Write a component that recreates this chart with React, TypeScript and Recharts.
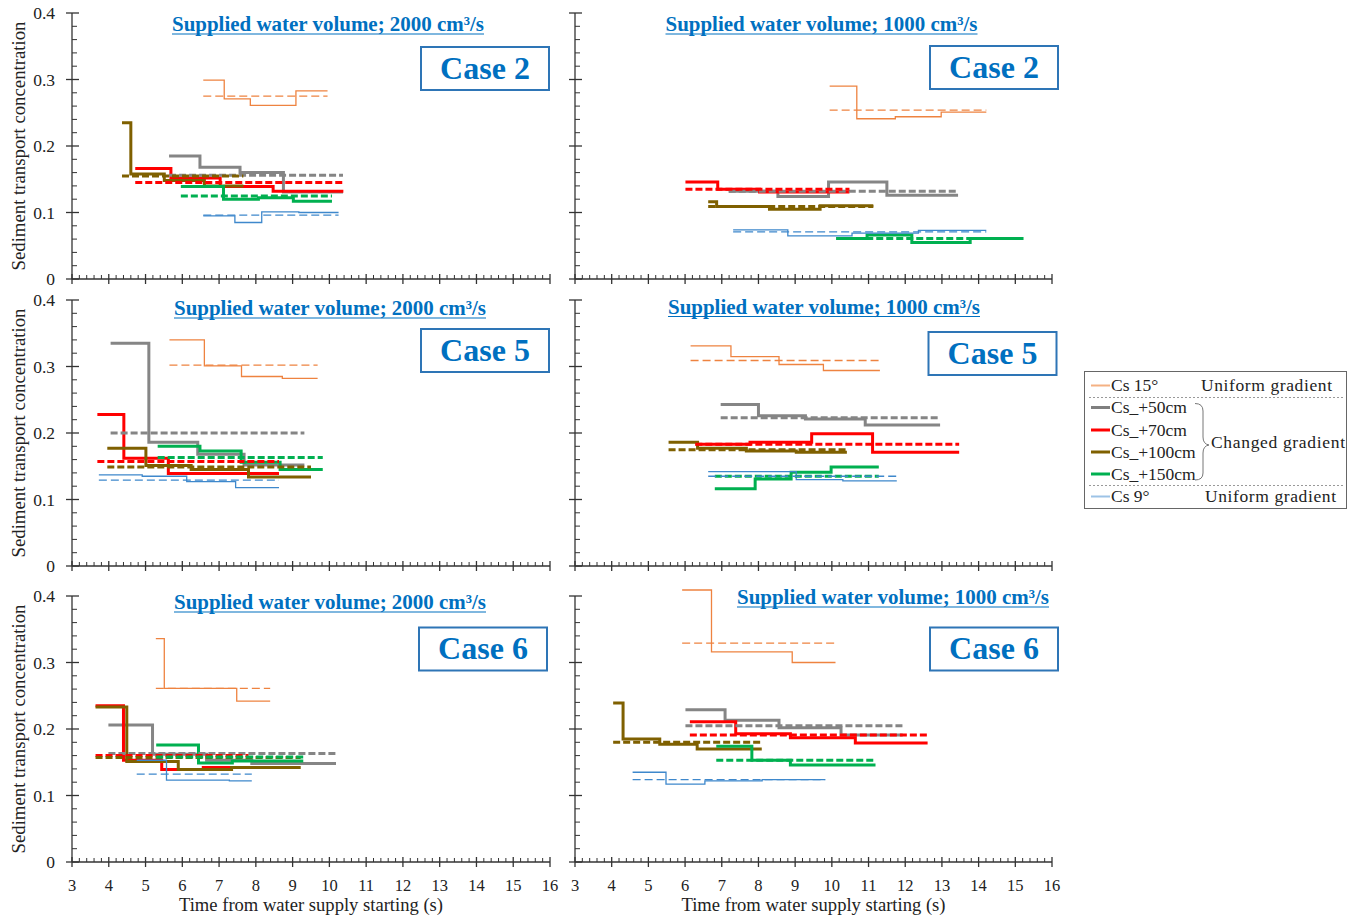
import React from 'react';
import { LineChart, Line, XAxis, YAxis, ReferenceLine } from 'recharts';

// ---------- axes ----------
const X_MAJOR = [3, 4, 5, 6, 7, 8, 9, 10, 11, 12, 13, 14, 15, 16];
const Y_MAJOR = [0, 0.1, 0.2, 0.3, 0.4];
const Y_LABELS = ['0', '0.1', '0.2', '0.3', '0.4'];

// ---------- series ----------
const SERIES_NAMES = ['Cs 15°', 'Cs_+50cm', 'Cs_+70cm', 'Cs_+100cm', 'Cs_+150cm', 'Cs 9°'];
const SERIES_COLORS = ['#EE8340', '#858585', '#FF0000', '#7F6000', '#00B050', '#3E88CC'];
const LEGEND_COLORS = ['#F4B183', '#7F7F7F', '#FF0000', '#7F6000', '#00B050', '#9DC3E6'];
const SERIES_WIDTHS = [1.3, 3, 3, 3, 3, 1.3];

// Case 2, 2000 cm3/s  ([time, concentration] step starts; last = end)
const c2a_cs15 = [[6.57, 0.299], [7.14, 0.271], [7.85, 0.261], [9.09, 0.283], [9.95, 0.283]];
const c2a_p50 = [[5.64, 0.185], [6.48, 0.168], [7.57, 0.16], [8.75, 0.131], [10.37, 0.131]];
const c2a_p70 = [[4.72, 0.166], [5.69, 0.152], [7.03, 0.139], [8.47, 0.132], [10.38, 0.132]];
const c2a_p100 = [[4.36, 0.235], [4.6, 0.158], [5.51, 0.148], [6.6, 0.14], [7.66, 0.14]];
const c2a_p150 = [[5.96, 0.139], [7.12, 0.12], [8.07, 0.122], [9.02, 0.117], [10.07, 0.117]];
const c2a_cs9 = [[6.57, 0.095], [7.43, 0.085], [8.16, 0.101], [9.17, 0.1], [10.25, 0.1]];
const c2a_means = [0.275, 0.156, 0.145, 0.155, 0.125, 0.096];

// Case 2, 1000 cm3/s
const c2b_cs15 = [[9.94, 0.29], [10.68, 0.241], [11.73, 0.244], [12.98, 0.251], [14.21, 0.251]];
const c2b_p50 = [[7.19, 0.132], [8.53, 0.124], [9.91, 0.146], [11.5, 0.126], [13.44, 0.126]];
const c2b_p70 = [[6.01, 0.146], [6.89, 0.135], [8.03, 0.131], [10.48, 0.131]];
const c2b_p100 = [[6.63, 0.116], [6.86, 0.109], [8.3, 0.105], [9.68, 0.11], [11.13, 0.11]];
const c2b_p150 = [[10.12, 0.061], [10.96, 0.066], [12.18, 0.055], [13.77, 0.061], [15.22, 0.061]];
const c2b_cs9 = [[7.31, 0.074], [8.8, 0.065], [10.55, 0.069], [12.36, 0.073], [14.21, 0.073]];
const c2b_means = [0.254, 0.132, 0.135, 0.109, 0.061, 0.071];

// Case 5, 2000 cm3/s
const c5a_cs15 = [[5.65, 0.34], [6.6, 0.301], [7.61, 0.285], [8.72, 0.282], [9.68, 0.282]];
const c5a_p50 = [[4.05, 0.335], [5.09, 0.186], [6.42, 0.168], [7.68, 0.152], [9.32, 0.152]];
const c5a_p70 = [[3.69, 0.228], [4.41, 0.162], [5.62, 0.139], [8.63, 0.139]];
const c5a_p100 = [[3.96, 0.177], [5.01, 0.151], [6.24, 0.145], [7.8, 0.134], [9.5, 0.134]];
const c5a_p150 = [[5.33, 0.18], [6.48, 0.173], [7.6, 0.156], [8.66, 0.145], [9.82, 0.145]];
const c5a_cs9 = [[3.73, 0.137], [4.91, 0.135], [6.12, 0.127], [7.45, 0.118], [8.63, 0.118]];
const c5a_means = [0.302, 0.2, 0.157, 0.149, 0.163, 0.129];

// Case 5, 1000 cm3/s
const c5b_cs15 = [[6.15, 0.331], [7.25, 0.315], [8.56, 0.303], [9.77, 0.294], [11.31, 0.294]];
const c5b_p50 = [[6.97, 0.243], [8.0, 0.226], [9.28, 0.221], [10.91, 0.212], [12.95, 0.212]];
const c5b_p70 = [[6.28, 0.183], [7.77, 0.186], [9.45, 0.199], [11.11, 0.171], [13.47, 0.171]];
const c5b_p100 = [[5.55, 0.186], [6.34, 0.177], [7.67, 0.173], [9.03, 0.171], [10.41, 0.171]];
const c5b_p150 = [[6.81, 0.116], [7.91, 0.131], [8.89, 0.141], [9.98, 0.149], [11.28, 0.149]];
const c5b_cs9 = [[6.63, 0.142], [9.03, 0.13], [10.3, 0.128], [11.77, 0.128]];
const c5b_means = [0.309, 0.223, 0.183, 0.175, 0.135, 0.135];

// Case 6, 2000 cm3/s
const c6a_cs15 = [[5.28, 0.336], [5.51, 0.261], [7.48, 0.242], [8.39, 0.242]];
const c6a_p50 = [[3.99, 0.206], [5.19, 0.162], [6.66, 0.153], [7.89, 0.148], [10.18, 0.148]];
const c6a_p70 = [[3.64, 0.235], [4.4, 0.153], [5.44, 0.139], [6.57, 0.142], [7.8, 0.142]];
const c6a_p100 = [[3.64, 0.233], [4.49, 0.151], [5.89, 0.139], [7.34, 0.142], [9.22, 0.142]];
const c6a_p150 = [[5.29, 0.176], [6.44, 0.149], [7.36, 0.152], [9.29, 0.152]];
const c6a_cs9 = [[4.76, 0.153], [5.57, 0.123], [7.28, 0.122], [7.89, 0.122]];
const c6a_means = [0.261, 0.163, 0.16, 0.157, 0.158, 0.132];

// Case 6, 1000 cm3/s
const c6b_cs15 = [[5.92, 0.409], [6.72, 0.316], [8.92, 0.3], [10.1, 0.3]];
const c6b_p50 = [[6.01, 0.229], [7.09, 0.213], [8.56, 0.202], [10.25, 0.191], [11.93, 0.191]];
const c6b_p70 = [[6.13, 0.211], [7.38, 0.193], [8.87, 0.187], [10.64, 0.179], [12.61, 0.179]];
const c6b_p100 = [[4.04, 0.239], [4.31, 0.185], [5.31, 0.177], [6.33, 0.17], [8.09, 0.17]];
const c6b_p150 = [[6.85, 0.174], [7.82, 0.153], [8.87, 0.146], [11.19, 0.146]];
const c6b_cs9 = [[4.57, 0.135], [5.48, 0.117], [6.54, 0.122], [8.1, 0.124], [9.82, 0.124]];
const c6b_means = [0.329, 0.205, 0.191, 0.18, 0.153, 0.124];

const TITLE_2000 = 'Supplied water volume; 2000 cm³/s';
const TITLE_1000 = 'Supplied water volume; 1000 cm³/s';
const Y_TITLE = 'Sediment transport concentration';
const X_TITLE = 'Time from water supply starting (s)';

// ---------- helpers ----------
const FONT = "'Liberation Serif', 'Times New Roman', serif";
const AXIS = '#333';
const TITLE_BLUE = '#0070C0';
const BOX_BLUE = '#2E75B6';

const X_TICKS: number[] = X_MAJOR.flatMap((m, i) =>
  i < X_MAJOR.length - 1 ? [0, 1, 2, 3, 4].map((k) => +(m + k * 0.2).toFixed(1)) : [m]
);
const Y_TICKS: number[] = Y_MAJOR.flatMap((m, i) =>
  i < Y_MAJOR.length - 1 ? [0, 1, 2, 3, 4].map((k) => +(m + k * 0.02).toFixed(2)) : [m]
);

const toPts = (s: number[][]) => s.map(([x, y]) => ({ x, y }));
const meanPts = (s: number[][], m: number) => [
  { x: s[0][0], y: m },
  { x: s[s.length - 1][0], y: m },
];

function XTick(props: any) {
  const { x, y, payload, showLabel } = props;
  const v = Number(payload.value);
  const major = Math.abs(v - Math.round(v)) < 1e-6;
  if (!major) return <line x1={x} x2={x} y1={y} y2={y - 4} stroke={AXIS} strokeWidth={1} />;
  return (
    <g>
      <line x1={x} x2={x} y1={y - 5} y2={y + 5} stroke={AXIS} strokeWidth={1.3} />
      {showLabel && (
        <text x={x} y={y + 29} textAnchor="middle" fontFamily={FONT} fontSize={16.5} fill="#222">
          {String(Math.round(v))}
        </text>
      )}
    </g>
  );
}

function YTick(props: any) {
  const { x, y, payload, showLabel } = props;
  const v = Number(payload.value);
  const major = Math.abs(v * 10 - Math.round(v * 10)) < 1e-6;
  if (!major) return <line x1={x} x2={x + 5} y1={y} y2={y} stroke={AXIS} strokeWidth={1} />;
  const idx = Math.round(v * 10);
  return (
    <g>
      <line x1={x - 6} x2={x + 7} y1={y} y2={y} stroke={AXIS} strokeWidth={1.3} />
      {showLabel && (
        <text x={x - 17} y={y + 6} textAnchor="end" fontFamily={FONT} fontSize={17.5} fill="#222">
          {Y_LABELS[idx]}
        </text>
      )}
    </g>
  );
}

const PANELS = [
  { steps: [c2a_cs15, c2a_p50, c2a_p70, c2a_p100, c2a_p150, c2a_cs9], means: c2a_means, yMax: 0.4, left: 0, top: 0, width: 560, height: 290, margin: { top: 13, right: 10, bottom: 10, left: 71 }, yl: true, xl: false },
  { steps: [c2b_cs15, c2b_p50, c2b_p70, c2b_p100, c2b_p150, c2b_cs9], means: c2b_means, yMax: 0.4, left: 560, top: 0, width: 510, height: 290, margin: { top: 13, right: 18, bottom: 10, left: 14 }, yl: false, xl: false },
  { steps: [c5a_cs15, c5a_p50, c5a_p70, c5a_p100, c5a_p150, c5a_cs9], means: c5a_means, yMax: 0.4, left: 0, top: 290, width: 560, height: 290, margin: { top: 10, right: 10, bottom: 13, left: 71 }, yl: true, xl: false },
  { steps: [c5b_cs15, c5b_p50, c5b_p70, c5b_p100, c5b_p150, c5b_cs9], means: c5b_means, yMax: 0.4, left: 560, top: 290, width: 510, height: 290, margin: { top: 10, right: 18, bottom: 13, left: 14 }, yl: false, xl: false },
  { steps: [c6a_cs15, c6a_p50, c6a_p70, c6a_p100, c6a_p150, c6a_cs9], means: c6a_means, yMax: 0.4, left: 0, top: 580, width: 560, height: 337, margin: { top: 16, right: 10, bottom: 54, left: 71 }, yl: true, xl: true },
  // domain reaches 0.41 so the first Cs 15° step (0.409) rises above the 0.4 tick, as in the reference
  { steps: [c6b_cs15, c6b_p50, c6b_p70, c6b_p100, c6b_p150, c6b_cs9], means: c6b_means, yMax: 0.41, left: 560, top: 580, width: 510, height: 337, margin: { top: 9.35, right: 18, bottom: 54, left: 14 }, yl: false, xl: true },
];

const TITLES = [
  { text: TITLE_2000, cx: 328, by: 31 },
  { text: TITLE_1000, cx: 821.5, by: 31 },
  { text: TITLE_2000, cx: 330, by: 315 },
  { text: TITLE_1000, cx: 824, by: 313.5 },
  { text: TITLE_2000, cx: 330, by: 609 },
  { text: TITLE_1000, cx: 893, by: 604 },
];

const CASES = [
  { text: 'Case 2', x: 421, y: 47 },
  { text: 'Case 2', x: 930, y: 46 },
  { text: 'Case 5', x: 421, y: 329 },
  { text: 'Case 5', x: 928.5, y: 332 },
  { text: 'Case 6', x: 419, y: 627.5 },
  { text: 'Case 6', x: 930, y: 627.5 },
];

function Panel({ p }: { p: any }) {
  return (
    <div style={{ position: 'absolute', left: p.left, top: p.top }}>
      <LineChart width={p.width} height={p.height} margin={p.margin}>
        <XAxis
          type="number"
          dataKey="x"
          domain={[3, 16]}
          ticks={X_TICKS}
          interval={0}
          height={1}
          tickSize={0}
          tickMargin={0}
          tickLine={false}
          axisLine={{ stroke: AXIS, strokeWidth: 1.3 }}
          tick={(t: any) => <XTick {...t} showLabel={p.xl} />}
        />
        <YAxis
          type="number"
          dataKey="y"
          domain={[0, p.yMax]}
          ticks={Y_TICKS}
          interval={0}
          width={1}
          tickSize={0}
          tickMargin={0}
          tickLine={false}
          axisLine={false}
          tick={(t: any) => <YTick {...t} showLabel={p.yl} />}
        />
        <ReferenceLine
          segment={[{ x: 3, y: 0 }, { x: 3, y: 0.4 }]}
          stroke={AXIS}
          strokeWidth={1.3}
          ifOverflow="visible"
        />
        {p.steps.map((s: number[][], i: number) => (
          <Line
            key={'s' + i}
            data={toPts(s)}
            dataKey="y"
            name={SERIES_NAMES[i]}
            type="stepAfter"
            stroke={SERIES_COLORS[i]}
            strokeWidth={SERIES_WIDTHS[i]}
            dot={false}
            activeDot={false}
            isAnimationActive={false}
          />
        ))}
        {p.steps.map((s: number[][], i: number) => (
          <Line
            key={'m' + i}
            data={meanPts(s, p.means[i])}
            dataKey="y"
            name={SERIES_NAMES[i] + ' mean'}
            type="linear"
            stroke={SERIES_COLORS[i]}
            strokeWidth={SERIES_WIDTHS[i]}
            strokeDasharray={SERIES_WIDTHS[i] > 2 ? '7 3' : '8 4'}
            dot={false}
            activeDot={false}
            isAnimationActive={false}
          />
        ))}
      </LineChart>
    </div>
  );
}

function Overlay() {
  const legendRows = [
    { i: 1, ly: 407.5, by: 413 },
    { i: 2, ly: 430, by: 435.5 },
    { i: 3, ly: 452, by: 457.5 },
    { i: 4, ly: 474, by: 479.5 },
  ];
  return (
    <svg width={1360} height={917} style={{ position: 'absolute', left: 0, top: 0, pointerEvents: 'none' }}>
      {TITLES.map((t, k) => (
        <g key={'t' + k}>
          <text x={t.cx} y={t.by} textAnchor="middle" fontFamily={FONT} fontWeight="bold" fontSize={21} fill={TITLE_BLUE} textLength={312} lengthAdjust="spacingAndGlyphs">
            {t.text}
          </text>
          <line x1={t.cx - 156} x2={t.cx + 156} y1={t.by + 3} y2={t.by + 3} stroke={TITLE_BLUE} strokeWidth={1.2} />
        </g>
      ))}
      {CASES.map((c, k) => (
        <g key={'c' + k}>
          <rect x={c.x} y={c.y} width={128} height={43} fill="#fff" stroke={BOX_BLUE} strokeWidth={2} />
          <text x={c.x + 64} y={c.y + 31.5} textAnchor="middle" fontFamily={FONT} fontWeight="bold" fontSize={32} fill={TITLE_BLUE}>
            {c.text}
          </text>
        </g>
      ))}
      {[146, 433, 729].map((cy, k) => (
        <text key={'yt' + k} x={25} y={cy} transform={`rotate(-90 25 ${cy})`} textAnchor="middle" fontFamily={FONT} fontSize={18.5} fill="#222" textLength={249} lengthAdjust="spacingAndGlyphs">
          {Y_TITLE}
        </text>
      ))}
      {[311, 813.5].map((cx, k) => (
        <text key={'xt' + k} x={cx} y={911} textAnchor="middle" fontFamily={FONT} fontSize={18} fill="#222" textLength={264} lengthAdjust="spacingAndGlyphs">
          {X_TITLE}
        </text>
      ))}

      {/* legend */}
      <rect x={1084.5} y={371.5} width={262} height={137} fill="#fff" stroke="#666" strokeWidth={1} />
      <line x1={1091} x2={1110} y1={385.5} y2={385.5} stroke={LEGEND_COLORS[0]} strokeWidth={2} />
      <text x={1111} y={391} fontFamily={FONT} fontSize={17.5} fill="#222">{SERIES_NAMES[0]}</text>
      <text x={1201} y={391} fontFamily={FONT} fontSize={17.5} fill="#222" textLength={131}>Uniform gradient</text>
      <line x1={1089} x2={1343} y1={397.5} y2={397.5} stroke="#999" strokeWidth={1} strokeDasharray="2 2" />
      {legendRows.map((r) => (
        <g key={'lg' + r.i}>
          <line x1={1091} x2={1110} y1={r.ly} y2={r.ly} stroke={LEGEND_COLORS[r.i]} strokeWidth={3} />
          <text x={1111} y={r.by} fontFamily={FONT} fontSize={17.5} fill="#222">{SERIES_NAMES[r.i]}</text>
        </g>
      ))}
      <path d="M1195 403.5 Q1203 403.5 1203 411 L1203 437 Q1203 444 1209 445 Q1203 446 1203 453 L1203 473 Q1203 480 1195 480" fill="none" stroke="#777" strokeWidth={1} />
      <text x={1211} y={448} fontFamily={FONT} fontSize={17.5} fill="#222" textLength={134}>Changed gradient</text>
      <line x1={1089} x2={1343} y1={485.5} y2={485.5} stroke="#999" strokeWidth={1} strokeDasharray="2 2" />
      <line x1={1091} x2={1110} y1={496.5} y2={496.5} stroke={LEGEND_COLORS[5]} strokeWidth={2} />
      <text x={1111} y={502} fontFamily={FONT} fontSize={17.5} fill="#222">{SERIES_NAMES[5]}</text>
      <text x={1205} y={502} fontFamily={FONT} fontSize={17.5} fill="#222" textLength={131}>Uniform gradient</text>
    </svg>
  );
}

export default function App() {
  return (
    <div style={{ position: 'absolute', left: 0, top: 0, width: 1360, height: 917, background: '#fff', overflow: 'hidden' }}>
      {PANELS.map((p, k) => (
        <Panel key={k} p={p} />
      ))}
      <Overlay />
    </div>
  );
}
